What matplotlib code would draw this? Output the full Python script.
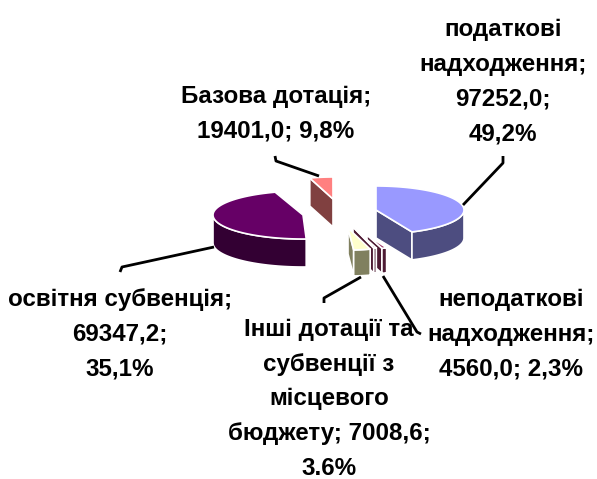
import numpy as np
from matplotlib import pyplot as plt
from matplotlib.patches import Polygon

# slice sizes as drawn (%). The picture does not follow its own labels, so these are read off the shapes
slice_names = ["податкові", "неподаткові", "тонка", "Інші", "сіра", "освітня", "Базова"]
slice_shares = [43.3, 1.67, 0.56, 3.34, 0.56, 45.56, 5.0]

top_colors = ["#9999FF", "#993366", "#660033", "#FFFFCC", "#CCE6E6", "#660066", "#FF8080"]
side_colors = ["#4D4D80", "#4D1A33", "#4D1A33", "#80805F", "#668080", "#330033", "#804040"]

# apex x, apex y, radius x, radius y, depth
centers_x = [376, 367, 353, 348, 343, 303, 333]
centers_y = [210, 235, 227, 228, 236, 215, 199]
radii_x = [88, 48, 75, 80, 30, 90, 75]
radii_y = [24, 14, 22, 22, 6, 24, 22]
depths = [28, 25, 25, 26, 20, 28, 28]

labels = ["податкові\nнадходження;\n97252,0;\n49,2%",
          "Базова дотація;\n19401,0; 9,8%",
          "освітня субвенція;\n69347,2;\n35,1%",
          "Інші дотації та\nсубвенції з\nмісцевого\nбюджету; 7008,6;\n3.6%",
          "неподаткові\nнадходження;\n4560,0; 2,3%"]
label_x = [503, 276, 120, 329, 511]
label_y = [82, 114, 334, 399, 334]

leaders = [([463, 503, 503], [205, 163, 156]),
           ([275, 276, 319], [156, 161, 176]),
           ([120, 122, 214], [272, 267, 247]),
           ([361, 324, 324], [277, 298, 303]),
           ([383, 417, 421], [276, 332, 334])]


def arc_points(cx, cy, rx, ry, start, end):
    # angle runs clockwise from 12 o'clock
    angles = np.radians(np.linspace(start, end, 60))
    return cx + rx * np.sin(angles), cy - ry * np.cos(angles)


fig = plt.figure(figsize=(5.97, 4.79), dpi=100)
ax = fig.add_axes([0, 0, 1, 1])
ax.set_xlim(0, 597)
ax.set_ylim(479, 0)
ax.axis("off")

plt.rcParams["font.family"] = ["Liberation Sans", "DejaVu Sans"]

edges = np.cumsum([0] + slice_shares) * 3.6

for i in [6, 5, 0, 1, 2, 4, 3]:
    start, end = edges[i], edges[i + 1]
    cx, cy, rx, ry, d = centers_x[i], centers_y[i], radii_x[i], radii_y[i], depths[i]
    ex, ey = arc_points(cx, cy, rx, ry, start, end)

    # cut faces: right half shows the closing edge, left half the opening edge
    if i == 6:
        face_x = [ex[0], cx, cx, ex[0]]
        face_y = [ey[0], cy, cy + d, ey[0] + d]
    elif i == 5:
        face_x = []
    else:
        face_x = [cx, ex[-1], ex[-1], cx]
        face_y = [cy, ey[-1], ey[-1] + d, cy + d]
    if len(face_x) > 0:
        ax.add_patch(Polygon(np.column_stack([face_x, face_y]), fc=side_colors[i], ec="white", lw=1.2, zorder=i + 2))

    # outer wall, only the front half of the ellipse
    lo, hi = max(start, 90), min(end, 270)
    if lo < hi:
        wx, wy = arc_points(cx, cy, rx, ry, lo, hi)
        wall = np.column_stack([np.r_[wx, wx[::-1]], np.r_[wy, wy[::-1] + d]])
        ax.add_patch(Polygon(wall, fc=side_colors[i], ec="white", lw=1.2, zorder=i + 2))

    top = np.column_stack([np.r_[cx, ex], np.r_[cy, ey]])
    ax.add_patch(Polygon(top, fc=top_colors[i], ec="white", lw=1.2, zorder=i + 3))

for xs, ys in leaders:
    ax.plot(xs, ys, color="black", lw=2, zorder=20, solid_capstyle="butt")

for text, x, y in zip(labels, label_x, label_y):
    ax.text(x, y, text, ha="center", va="center", fontsize=17.4, fontweight="bold",
            linespacing=1.65, color="black", zorder=21)

fig.savefig("out.png", dpi=100)
